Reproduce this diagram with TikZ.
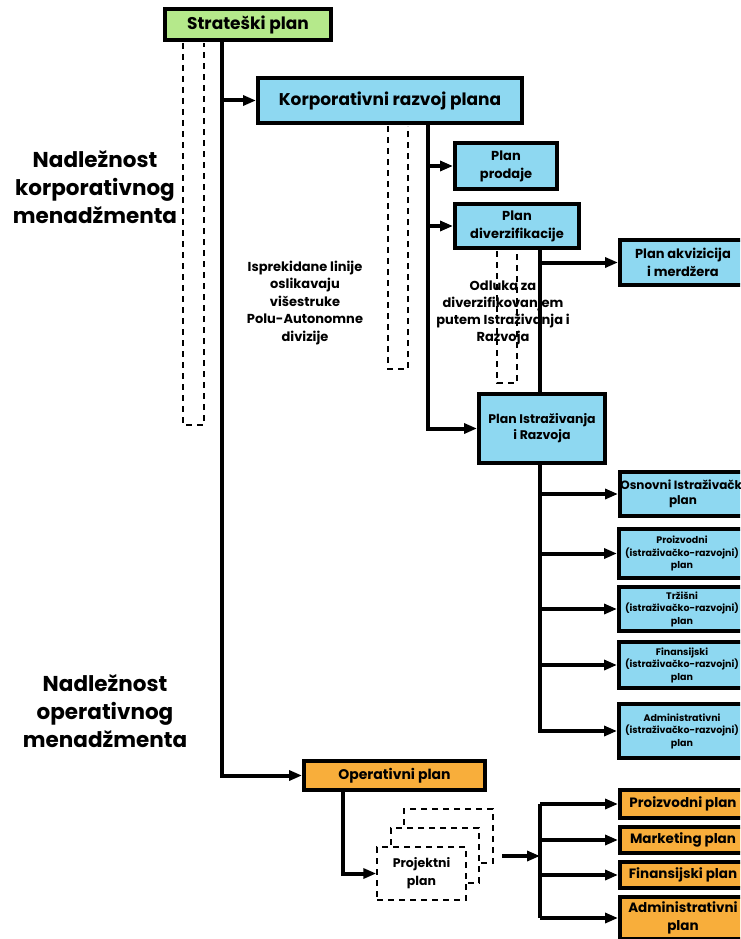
\documentclass[tikz,border=0pt]{standalone}
\usepackage{fontspec}
\setmainfont{Poppins}
\usetikzlibrary{arrows.meta}
\definecolor{stratgreen}{HTML}{B5E98B}
\definecolor{planblue}{HTML}{8ED8F1}
\definecolor{oporange}{HTML}{F8AE3B}
\newcommand{\fs}[2]{\fontsize{#1}{#2}\selectfont}

\begin{document}
\begin{tikzpicture}[x=1pt,y=-1pt,
  box/.style={draw=black, line width=4pt, inner sep=0pt, align=center, text=black, font=\bfseries},
  greenbox/.style={box, fill=stratgreen},
  bluebox/.style={box, fill=planblue},
  orangebox/.style={box, fill=oporange},
  conn/.style={line width=4pt, -{Triangle[length=13pt,width=10pt]}},
  stem/.style={line width=4pt},
  division/.style={line width=1.5pt, dash pattern=on 6pt off 5pt},
  projbox/.style={draw=black, fill=white, line width=1.5pt, dash pattern=on 6pt off 5pt, inner sep=0pt, align=center},
  note/.style={align=center, text=black, font=\bfseries}
]
\useasboundingbox (0,0) rectangle (740,939);
\clip (0,0) rectangle (740,939);

% ---- boxes ----
\node[greenbox, minimum width=166, minimum height=31, font=\bfseries\fs{17}{19}] (strat) at (248,24.5) {Strateški plan};
\node[bluebox, minimum width=264, minimum height=45, font=\bfseries\fs{17}{19}] (korp) at (390,100.5) {Korporativni razvoj plana};
\node[bluebox, minimum width=102, minimum height=46, font=\bfseries\fs{13}{18}] (prod) at (506,166) {Plan\\prodaje};
\node[bluebox, minimum width=124, minimum height=44, font=\bfseries\fs{13}{18}] (div) at (517,226) {Plan\\diverzifikacije};
\node[bluebox, minimum width=126, minimum height=45, font=\bfseries\fs{13}{18}] (akv) at (683,262.5) {Plan akvizicija\\i merdžera};
\node[bluebox, minimum width=126, minimum height=69, font=\bfseries\fs{12.5}{16}] (istr) at (542,428.5) {Plan Istraživanja\\i Razvoja};

\node[bluebox, minimum width=126, minimum height=44, font=\bfseries\fs{12}{15}] (osn) at (683,494) {Osnovni Istraživački\\plan};
\node[bluebox, minimum width=126, minimum height=49, font=\bfseries\fs{9.5}{12.5}] (rproiz) at (682,553.5) {Proizvodni\\(istraživačko-razvojni)\\plan};
\node[bluebox, minimum width=126, minimum height=44, font=\bfseries\fs{9.5}{12.5}] (rtrz) at (682,609) {Tržišni\\(istraživačko-razvojni)\\plan};
\node[bluebox, minimum width=126, minimum height=46, font=\bfseries\fs{9.5}{12.5}] (rfin) at (682,665) {Finansijski\\(istraživačko-razvojni)\\plan};
\node[bluebox, minimum width=126, minimum height=54, font=\bfseries\fs{9.5}{12.5}] (radm) at (682,731) {Administrativni\\(istraživačko-razvojni)\\plan};

\node[orangebox, minimum width=181, minimum height=29, font=\bfseries\fs{14}{17}] (oper) at (394.5,775.5) {Operativni plan};
\node[orangebox, minimum width=126, minimum height=28, font=\bfseries\fs{13.5}{17}] (oproiz) at (683,804) {Proizvodni plan};
\node[orangebox, minimum width=126, minimum height=26, font=\bfseries\fs{13.5}{17}] (omark) at (683,840) {Marketing plan};
\node[orangebox, minimum width=126, minimum height=26, font=\bfseries\fs{13.5}{17}] (ofin) at (683,875) {Finansijski plan};
\node[orangebox, minimum width=126, minimum height=42, font=\bfseries\fs{13.5}{18}] (oadm) at (683,918) {Administrativni\\plan};

% stacked project plans
\node[projbox, minimum width=89, minimum height=54] (pj3) at (448.5,836) {};
\node[projbox, minimum width=88, minimum height=55] (pj2) at (435,855.5) {};
\node[projbox, minimum width=89, minimum height=53, font=\bfseries\fs{12.5}{18}] (pj1) at (421.5,873.5) {Projektni\\plan};

% ---- stems and arrows ----
\coordinate (s1) at (222,40);
\coordinate (s2) at (428,123);
\coordinate (s3) at (540,248);
\coordinate (s4) at (540,463);
\coordinate (s5) at (343,790);
\coordinate (pout) at (502,856);
\coordinate (bus) at (540,856);

\draw[conn] (s1) |- (korp.west);
\draw[conn] (s1) |- (oper.west);

\draw[conn] (s2) |- (prod.west);
\draw[conn] (s2) |- (div.west);
\draw[conn] (s2) |- (istr.west);

\draw[stem] (s3) -- (s3 |- istr.north);
\draw[conn] (s3) |- (akv.west);

\draw[conn] (s4) |- (osn.west);
\draw[conn] (s4) |- (rproiz.west);
\draw[conn] (s4) |- (rtrz.west);
\draw[conn] (s4) |- (rfin.west);
\draw[conn] (s4) |- (radm.west);

\draw[conn] (s5) |- (pj1.west);
\draw[conn] (pout) -- (bus);
\draw[stem] (bus |- oproiz.west) -- (bus |- oadm.west);
\draw[conn] (bus |- oproiz.west) -- (oproiz.west);
\draw[conn] (bus |- omark.west) -- (omark.west);
\draw[conn] (bus |- ofin.west) -- (ofin.west);
\draw[conn] (bus |- oadm.west) -- (oadm.west);

% ---- semi-autonomous divisions (dashed) ----
\draw[division] (183,43) -- (183,425) -- (204,425) -- (204,43);
\draw[division] (388,126) -- (388,369) -- (408,369) -- (408,126);
\draw[division] (497,251) -- (497,383) -- (517,383) -- (517,251);

% ---- labels ----
\node[note, font=\bfseries\fs{21.5}{28}] (corp) at (95,187) {Nadležnost\\korporativnog\\menadžmenta};
\node[note, font=\bfseries\fs{21.5}{28}] (opr) at (105,711) {Nadležnost\\operativnog\\menadžmenta};
\node[note, font=\bfseries\fs{13}{17.5}] (dashnote) at (305,303) {Isprekidane linije\\oslikavaju\\višestruke\\Polu-Autonomne\\divizije};
\node[note, font=\bfseries\fs{13}{17}] (divnote) at (503,313) {Odluka za\\diverzifikovanjem\\putem Istraživanja i\\Razvoja};
\end{tikzpicture}
\end{document}
